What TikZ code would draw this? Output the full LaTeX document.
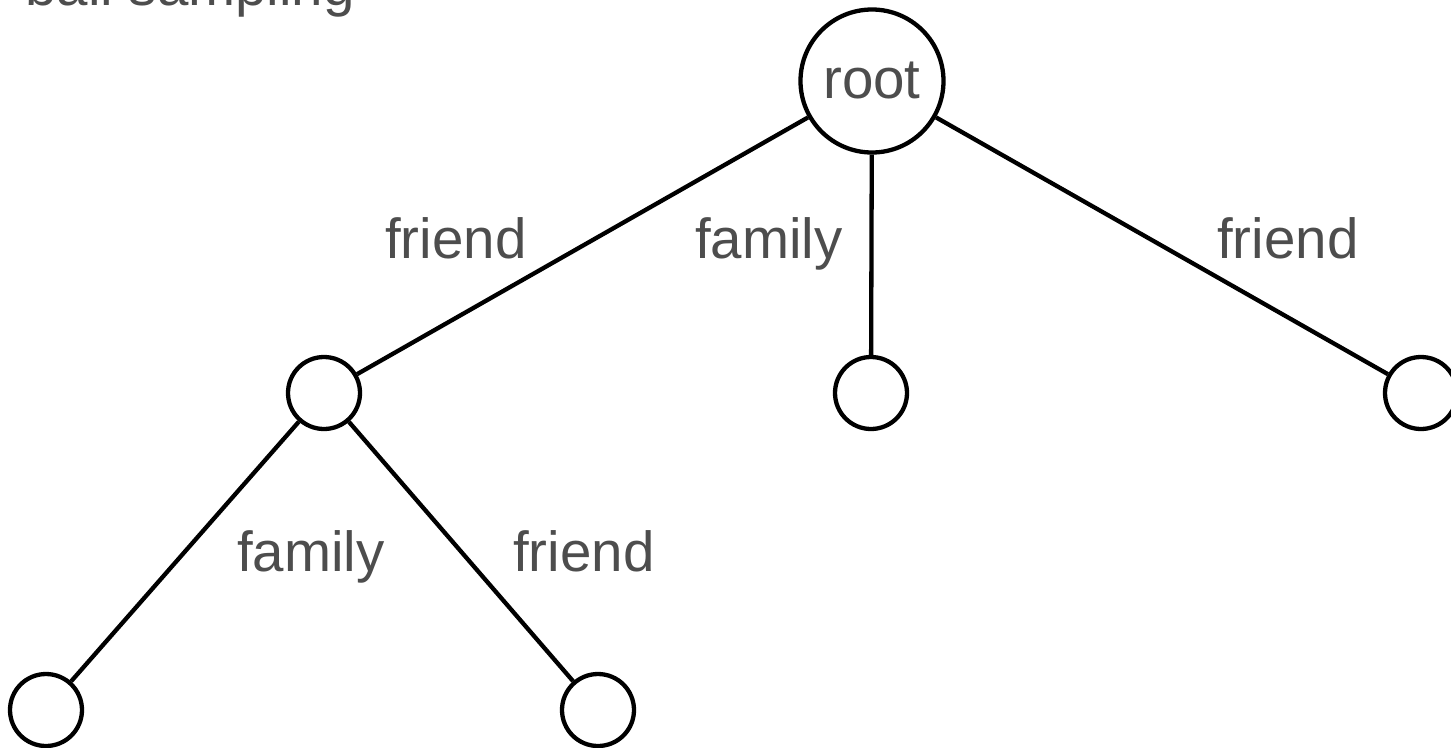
\documentclass[tikz,border=0pt]{standalone}
\usepackage{fontspec}
\setmainfont{Liberation Sans}
\definecolor{labelgray}{RGB}{77,77,77}
\begin{document}
\begin{tikzpicture}[x=1pt,y=-1pt,
  vertex/.style={circle,draw=black,line width=4.3pt,fill=white,inner sep=0pt,minimum size=72pt},
  rootvertex/.style={vertex,minimum size=143pt,text=labelgray,font=\fontsize{56.5}{62}\selectfont},
  edge/.style={draw=black,line width=4.3pt},
  lbl/.style={anchor=base west,inner sep=0pt,text=labelgray,font=\fontsize{56.5}{62}\selectfont}]
\useasboundingbox (0,0) rectangle (1451,747);
% tree vertices
\node[rootvertex] (root) at (872,81) {root};
\node[vertex] (l)  at (324,393) {};
\node[vertex] (m)  at (871,393) {};
\node[vertex] (r)  at (1421,393) {};
\node[vertex] (ll) at (46,710) {};
\node[vertex] (lr) at (598,710) {};
% tree edges
\draw[edge] (root) -- (l);
\draw[edge] (root) -- (m);
\draw[edge] (root) -- (r);
\draw[edge] (l) -- (ll);
\draw[edge] (l) -- (lr);
% edge labels
\node[lbl] (t1) at (385,258) {friend};
\node[lbl] (t2) at (695,258) {family};
\node[lbl] (t3) at (1217,258) {friend};
\node[lbl] (t4) at (237,571) {family};
\node[lbl] (t5) at (513,571) {friend};
% title
\node[lbl] (title) at (25,5) {ball sampling};
\end{tikzpicture}
\end{document}
